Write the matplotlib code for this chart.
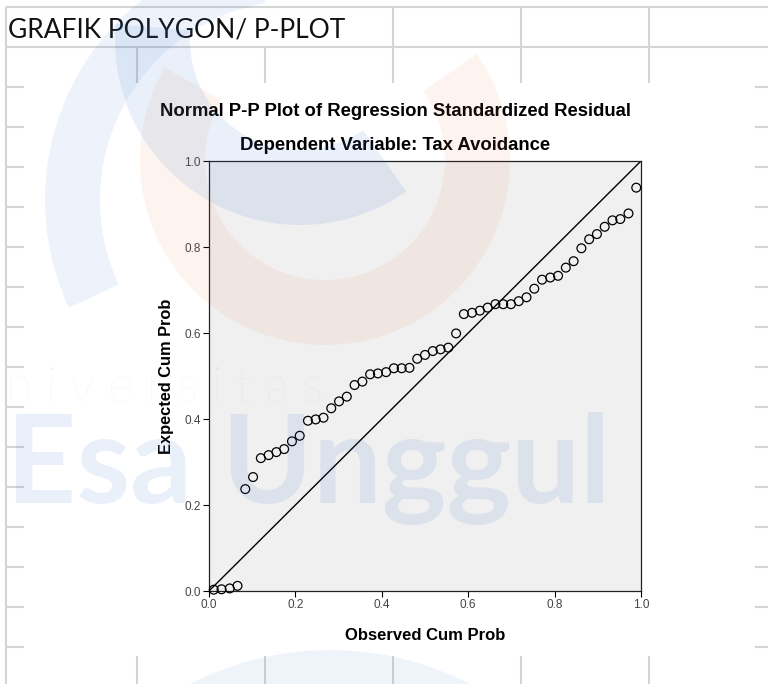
import matplotlib
matplotlib.use("Agg")
import matplotlib.pyplot as plt
from matplotlib.patches import Wedge, Circle

# values (55 residuals)
observed = [0.011, 0.029, 0.048, 0.066, 0.084, 0.102, 0.120, 0.138, 0.156, 0.174,
            0.192, 0.210, 0.229, 0.247, 0.265, 0.283, 0.301, 0.319, 0.337, 0.355,
            0.373, 0.391, 0.410, 0.428, 0.446, 0.464, 0.482, 0.500, 0.518, 0.536,
            0.554, 0.572, 0.590, 0.609, 0.627, 0.645, 0.663, 0.681, 0.699, 0.717,
            0.735, 0.753, 0.771, 0.790, 0.808, 0.826, 0.844, 0.862, 0.880, 0.898,
            0.916, 0.934, 0.952, 0.971, 0.989]
expected = [0.003, 0.004, 0.006, 0.012, 0.237, 0.265, 0.309, 0.316, 0.323, 0.330,
            0.348, 0.361, 0.396, 0.399, 0.403, 0.425, 0.441, 0.452, 0.479, 0.487,
            0.504, 0.506, 0.509, 0.518, 0.518, 0.519, 0.540, 0.549, 0.558, 0.562,
            0.566, 0.599, 0.644, 0.647, 0.652, 0.659, 0.667, 0.667, 0.667, 0.674,
            0.683, 0.703, 0.724, 0.729, 0.733, 0.752, 0.767, 0.797, 0.818, 0.830,
            0.847, 0.862, 0.865, 0.878, 0.938]

ticks = [0.0, 0.2, 0.4, 0.6, 0.8, 1.0]
tick_labels = ["0.0", "0.2", "0.4", "0.6", "0.8", "1.0"]

sheet_title = "GRAFIK POLYGON/ P-PLOT"
chart_title = "Normal P-P Plot of Regression Standardized Residual"
chart_subtitle = "Dependent Variable: Tax Avoidance"
x_label = "Observed Cum Prob"
y_label = "Expected Cum Prob"

W, H = 768, 684


def fx(x):
    return x / W


def fy(y):
    # pixel row from top -> figure fraction
    return 1 - y / H


def main():
    fig = plt.figure(figsize=(7.68, 6.84), dpi=100)
    fig.patch.set_facecolor("white")

    # spreadsheet grid around the pasted chart
    bg = fig.add_axes([0, 0, 1, 1], zorder=0)
    bg.set_xlim(0, W)
    bg.set_ylim(H, 0)
    bg.axis("off")
    grid = "#d4d4d4"
    bg.hlines([7, 47], 6, W, color=grid, lw=1.5)
    bg.vlines([6], 7, H, color=grid, lw=1.5)
    bg.vlines([393, 521, 649], 7, 47, color=grid, lw=1.5)
    bg.vlines([137, 265, 393, 521, 649], 47, 83, color=grid, lw=1.5)
    bg.vlines([137, 265, 393, 521, 649], 656, H, color=grid, lw=1.5)
    rows = list(range(87, H, 40))
    bg.hlines(rows, 6, 24, color=grid, lw=1.5)
    bg.hlines(rows, 755, W, color=grid, lw=1.5)

    fig.text(fx(8), fy(30), sheet_title, fontsize=19, family="Lato",
             va="center", ha="left", color="#111111")

    # the SPSS chart
    ax = fig.add_axes([fx(209), fy(591), 432 / W, 430 / H], zorder=2)
    ax.set_facecolor("#f0f0f0")
    ax.plot([ticks[0], ticks[-1]], [ticks[0], ticks[-1]], color="black", lw=1.0)
    ax.scatter(observed, expected, s=40, facecolors="none", edgecolors="black",
               linewidths=0.9, clip_on=False, zorder=3)
    ax.set_xlim(ticks[0], ticks[-1])
    ax.set_ylim(ticks[0], ticks[-1])
    ax.set_xticks(ticks)
    ax.set_yticks(ticks)
    ax.set_xticklabels(tick_labels)
    ax.set_yticklabels(tick_labels)
    ax.tick_params(direction="out", length=4, width=0.8, labelsize=8.5,
                   labelcolor="#444444", pad=2)
    for sp in ax.spines.values():
        sp.set_color("#222222")
        sp.set_linewidth(0.9)
    ax.set_xlabel(x_label, fontsize=12, fontweight="bold",
                  family="Liberation Sans", labelpad=12)
    ax.set_ylabel(y_label, fontsize=11.8, fontweight="bold",
                  family="Liberation Sans", labelpad=7)
    for lab in ax.get_xticklabels() + ax.get_yticklabels():
        lab.set_family("Liberation Sans")

    fig.text(fx(395), fy(111), chart_title, fontsize=13.3, fontweight="bold",
             family="Liberation Sans", ha="center", va="center")
    fig.text(fx(395), fy(146), chart_subtitle, fontsize=13.3, fontweight="bold",
             family="Liberation Sans", ha="center", va="center")

    # faint university watermark over everything
    wm = fig.add_axes([0, 0, 1, 1], zorder=5)
    wm.set_xlim(0, W)
    wm.set_ylim(0, H)
    wm.axis("off")
    wm.patch.set_alpha(0)
    blue = "#2a6fd0"
    orange = "#f07a3a"
    wm.add_patch(Wedge((300, H - 200), 255, 100, 205, width=55,
                       color=blue, alpha=0.08, lw=0))
    wm.add_patch(Wedge((325, H - 160), 185, 150, 395, width=65,
                       color=orange, alpha=0.08, lw=0))
    wm.add_patch(Wedge((300, H - 40), 185, 175, 305, width=75,
                       color=blue, alpha=0.10, lw=0))
    wm.add_patch(Circle((330, H - 955), 305, color=blue, alpha=0.07, lw=0))
    wm.text(-43, H - 402, "U n i v e r s i t a s", fontsize=35, family="Lato",
            fontweight="light", color=blue, alpha=0.08, va="baseline")
    wm.text(610, H - 503, "Esa Unggul", fontsize=88, family="Lato",
            fontweight="bold", color=blue, alpha=0.10, ha="right", va="baseline")

    fig.savefig("out.png", dpi=100)


if __name__ == "__main__":
    main()
